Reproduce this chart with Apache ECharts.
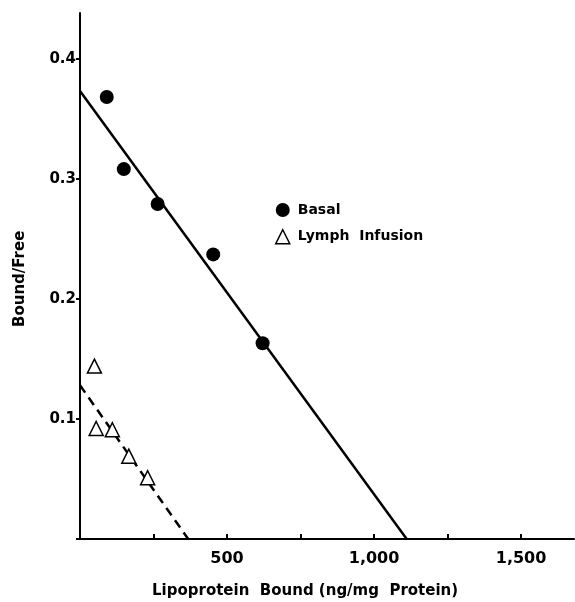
<!DOCTYPE html>
<html>
<head>
<meta charset="utf-8">
<script src="https://cdn.jsdelivr.net/npm/echarts@6/dist/echarts.min.js"></script>
<style>html,body{margin:0;padding:0;background:#fff;}#c{width:575px;height:602px;}</style>
</head>
<body>
<div id="c"></div>
<script>
var basalX = [91, 149, 264, 453, 621];
var basalY = [0.368, 0.308, 0.279, 0.237, 0.163];
var lymphX = [49, 55, 110, 166, 230];
var lymphY = [0.144, 0.092, 0.091, 0.069, 0.051];
var basalFitX = [0, 1111];
var basalFitY = [0.373, 0];
var lymphFitX = [0, 368];
var lymphFitY = [0.128, 0];
var xTickLabels = {500: '500', 1000: '1,000', 1500: '1,500'};
var yTickLabels = {1: '0.1', 2: '0.2', 3: '0.3', 4: '0.4'};

function pairs(xs, ys) { return xs.map(function (x, i) { return [x, ys[i]]; }); }

var FONT = 'DejaVu Sans';
var chart = echarts.init(document.getElementById('c'), null, {renderer: 'canvas'});
chart.setOption({
  animation: false,
  backgroundColor: '#fff',
  grid: {left: 80, right: 1, top: 13, bottom: 63},
  xAxis: {
    type: 'value', min: 0, max: 1680, interval: 250,
    axisLine: {lineStyle: {color: '#000', width: 2}},
    axisTick: {inside: true, length: 5, lineStyle: {color: '#000', width: 2}},
    splitLine: {show: false},
    axisLabel: {
      margin: 12, color: '#000', fontFamily: FONT, fontWeight: 'bold', fontSize: 16,
      showMaxLabel: false,
      formatter: function (v) { return xTickLabels[Math.round(v)] || ''; }
    }
  },
  yAxis: {
    type: 'value', min: 0, max: 0.438, interval: 0.1,
    axisLine: {show: true, lineStyle: {color: '#000', width: 2}},
    axisTick: {show: true, inside: false, length: 4, lineStyle: {color: '#000', width: 2}},
    splitLine: {show: false},
    axisLabel: {
      margin: 4, color: '#000', fontFamily: FONT, fontWeight: 'bold', fontSize: 15,
      showMaxLabel: false,
      formatter: function (v) { return yTickLabels[Math.round(v * 10)] || ''; }
    }
  },
  legend: {
    orient: 'vertical', left: 270, top: 198, itemWidth: 14, itemHeight: 14, itemGap: 12,
    textStyle: {color: '#000', fontFamily: FONT, fontWeight: 'bold', fontSize: 14, padding: [0, 0, 0, 3]},
    data: [
      {name: 'Basal', icon: 'circle', itemStyle: {color: '#000', opacity: 1}},
      {name: 'Lymph  Infusion', icon: 'triangle', itemStyle: {color: '#fff', borderColor: '#000', borderWidth: 1.5, opacity: 1}}
    ]
  },
  graphic: [
    {type: 'text', left: 152, top: 584, style: {text: 'Lipoprotein  Bound (ng/mg  Protein)', fill: '#000', font: 'bold 15px "DejaVu Sans"'}},
    {type: 'text', x: 13, y: 327, rotation: Math.PI / 2, style: {text: 'Bound/Free', fill: '#000', font: 'bold 15px "DejaVu Sans"', textVerticalAlign: 'top'}}
  ],
  series: [
    {type: 'line', data: pairs(basalFitX, basalFitY), symbol: 'none', silent: true,
     lineStyle: {color: '#000', width: 2.5}},
    {type: 'line', data: pairs(lymphFitX, lymphFitY), symbol: 'none', silent: true,
     lineStyle: {color: '#000', width: 2.5, type: [9, 6]}},
    {name: 'Basal', type: 'scatter', data: pairs(basalX, basalY), symbol: 'circle', symbolSize: 14,
     itemStyle: {color: '#000', opacity: 1}, z: 5},
    {name: 'Lymph  Infusion', type: 'scatter', data: pairs(lymphX, lymphY), symbol: 'triangle', symbolSize: 14,
     itemStyle: {color: '#fff', borderColor: '#000', borderWidth: 1.5, opacity: 1}, z: 5}
  ]
});
</script>
</body>
</html>
